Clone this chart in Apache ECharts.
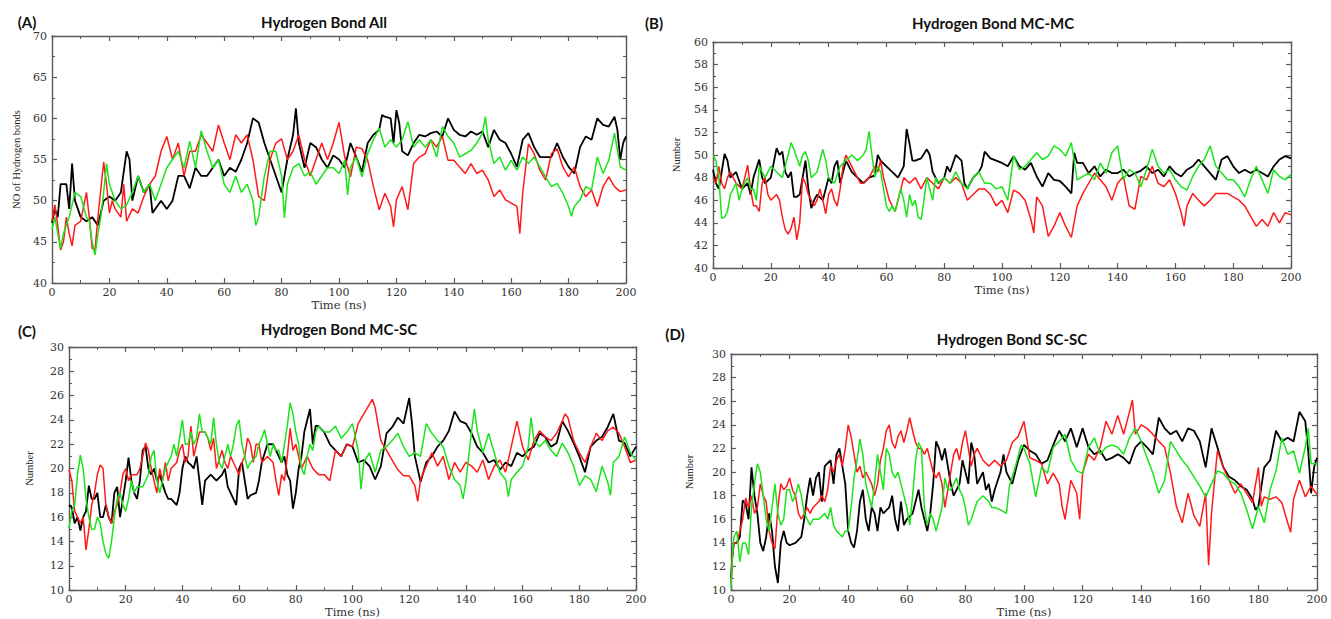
<!DOCTYPE html>
<html>
<head>
<meta charset="utf-8">
<title>Hydrogen bonds</title>
<script src="https://cdn.jsdelivr.net/npm/echarts@6/dist/echarts.min.js"></script>
<style>
  html, body { margin: 0; padding: 0; background: #fff; }
  #chart { width: 1331px; height: 619px; }
</style>
</head>
<body>
<div id="chart"></div>
<script>
// [time (ns), count] pairs
const allBlack = [[0,47.3],[1,49],[2,48],[3,52],[5,52],[6,49],[7,54.5],[8,50],[10,48],[12,47.5],[14,48],[16,47],[18,50],[20,50.5],[22,50],[24,51],[26,56],[27,55],[28,50],[30,53],[32,51],[34,52],[35,48.5],[38,50],[40,49],[42,50],[44,53],[46,53],[48,51.5],[50,54],[52,53],[54,53],[56,54],[58,55],[60,53],[62,54],[64,53.5],[66,55],[68,57],[70,60],[72,59.5],[74,57],[76,55],[78,53],[80,51],[82,55],[84,58],[85,61.2],[86,57],[88,54],[90,57],[92,56.5],[94,55],[96,54],[98,55.5],[100,55],[102,54],[104,57],[106,55.3],[108,53.5],[110,57],[112,58],[114,58.6],[115,60.4],[116,60.2],[118,60],[119,57],[120,61],[121,59.4],[122,56],[124,55.5],[126,57],[128,58],[130,57.8],[132,58.2],[134,58.4],[136,57.8],[138,60],[140,58.6],[142,58],[144,57.8],[146,58.4],[148,58],[150,58.4],[152,56.5],[154,58.6],[156,57.4],[158,57],[160,55.7],[162,54.1],[164,57.4],[166,58.2],[168,56.5],[170,55.3],[172,55.3],[174,55.3],[176,57],[178,55.3],[180,54.1],[182,53.3],[184,56.5],[186,57.8],[188,57.4],[190,60],[192,59.2],[194,59],[196,60.2],[197,58.6],[198,55],[199,57],[200,57.8]];
const allRed = [[0,47.5],[1,49.5],[2,47],[3,44],[4,45],[5,48],[6,46],[7,44.5],[8,47],[10,47.5],[12,51],[13,48],[14,44.2],[15,44],[16,48],[18,54.7],[19,52],[20,48.5],[21,50],[22,49],[24,48],[25,52],[26,47.5],[28,49],[30,48.5],[32,50.5],[34,52],[36,53],[38,56],[40,57.8],[42,55],[44,57],[46,53],[48,56],[50,56],[52,58],[54,57],[56,56],[58,59.2],[60,57],[62,55],[64,58],[66,57],[68,58],[70,55],[72,50.5],[74,50],[76,55],[78,57],[80,57.5],[82,55],[84,56],[86,58],[88,55],[90,53],[92,55],[94,57],[96,55],[98,57],[100,59.5],[101,57.4],[102,55.3],[104,52.9],[106,56.5],[108,56.3],[110,54.9],[112,51.7],[114,48.9],[116,50.9],[118,49.3],[119,46.8],[120,50.1],[122,51.7],[124,48.9],[126,54.5],[128,55.3],[130,55.7],[132,57.4],[134,56.5],[136,57.8],[138,54.9],[140,54.9],[142,54.1],[144,53.3],[146,54.5],[148,53.3],[150,53.7],[152,52.5],[154,50.5],[156,51.3],[158,50.1],[160,49.7],[162,49.3],[163,46],[164,50.9],[166,56.9],[168,55.7],[170,53.7],[172,52.5],[174,55.7],[176,56.3],[178,54.1],[180,52.9],[182,54.1],[184,51.7],[186,50.5],[188,51.3],[190,49.3],[192,51.7],[194,52.9],[196,51.7],[198,51.1],[200,51.3]];
const allGreen = [[0,46.5],[1,48],[2,46],[3,44.2],[4,46],[6,48],[8,51],[10,50.5],[12,48],[13,47.5],[14,45],[15,43.4],[16,46],[17,48],[18,51],[19,54.5],[20,52],[22,50],[24,49],[26,49.5],[28,51],[30,53],[32,51],[34,52],[36,50],[38,52],[40,54],[42,55],[44,56],[46,54],[48,57.2],[50,54],[52,58.5],[54,56],[56,54],[58,55],[60,52],[62,51],[64,53],[66,51],[68,52],[70,50],[71,47],[72,48],[74,53],[76,56],[78,56],[80,53],[81,47.9],[82,52],[84,54],[86,54.5],[88,53],[90,53.5],[92,52],[94,53],[96,54],[98,54],[100,53.3],[102,54.9],[103,50.7],[104,54.1],[106,55.3],[108,52.9],[110,55.7],[112,57.4],[114,58.8],[116,56.5],[118,57.4],[120,56.5],[122,57.4],[124,59.6],[126,56.5],[128,57.4],[130,56.5],[132,57.4],[134,55.3],[136,59],[138,57.8],[140,57],[142,55.3],[144,55.7],[146,56.1],[148,57],[150,58.2],[151,60.2],[152,57.4],[154,54.5],[156,55.3],[158,53.7],[160,54.9],[162,53.7],[164,55.3],[166,54.5],[168,55.3],[170,54.1],[172,52.9],[174,51.7],[176,52.1],[178,50.9],[180,49.3],[181,48.1],[182,49.3],[184,50.1],[186,51.7],[188,51.3],[190,55.3],[192,53.3],[194,54.9],[196,58.2],[198,54.1],[200,53.7]];

const mcmcBlack = [[0,48.7],[1,47.5],[2,47],[3,48.5],[4,50.1],[5,49.5],[6,48],[8,48.5],[10,47],[12,47.5],[13,46.5],[14,48],[16,49.6],[17,48],[18,47.5],[20,48],[22,50.6],[23,50],[24,50.3],[25,48.5],[26,48],[27,48.5],[28,46.3],[29,46.3],[30,46.5],[31,48],[32,49.5],[33,47],[34,45.3],[35,46],[36,46.5],[38,46],[40,48],[41,47.5],[42,49],[43,49.5],[44,47.5],[45,48.5],[46,49.5],[48,48.5],[50,48],[52,47.5],[54,48],[56,48.2],[57,50],[58,49.5],[60,49],[62,48.5],[64,48],[66,49],[67,52.3],[68,51],[69,49.5],[70,49.5],[72,49.7],[74,50.5],[75,50],[76,48.5],[78,47.5],[80,48],[81,49],[82,48.5],[84,50],[86,49.5],[87,47.5],[88,47],[90,48],[92,48.5],[93,49],[94,50.3],[96,49.7],[98,49.5],[100,49.3],[102,49],[104,49.9],[106,49],[108,48.7],[110,49.3],[112,48.1],[114,47.2],[116,48.4],[118,47.8],[120,47.7],[122,47.2],[124,46.6],[125,50.2],[126,49.3],[128,49.3],[130,48.4],[132,49],[134,48.1],[136,48.7],[138,48.4],[140,48.4],[142,48.7],[144,48.1],[146,48.4],[148,48.6],[150,49],[152,48.4],[154,48.7],[156,48.1],[158,49],[160,48.4],[162,48.1],[164,48.7],[166,49],[168,49.6],[170,49],[172,48.4],[174,47.8],[176,49.6],[178,49.9],[180,49],[182,48.4],[184,48.7],[186,48.4],[188,48.7],[190,48.4],[192,48.1],[194,49],[196,49.6],[198,49.9],[200,49.7]];
const mcmcRed = [[0,48],[1,47.5],[2,49],[3,47.5],[4,47],[5,48],[6,48.5],[8,47.5],[10,47],[11,48],[12,49.1],[13,47],[14,45.5],[15,45.5],[16,45],[17,47.5],[18,48],[19,46.5],[20,46],[22,46.5],[23,46],[24,44.5],[25,43.4],[26,43],[27,43.5],[28,44.5],[29,42.5],[30,44],[31,48],[32,47.5],[33,46.5],[34,46],[35,45.5],[36,46],[37,47],[38,46],[39,44.8],[40,46.5],[41,47],[42,46],[43,45.5],[44,47],[45,49],[46,50],[48,49],[50,48],[51,47.5],[52,47.5],[54,48],[56,49],[57,48.5],[58,49.5],[59,48],[60,47],[61,46],[62,45.5],[63,45],[64,46],[65,47],[66,48],[68,47.5],[70,48],[72,47],[74,48],[76,47.5],[78,47],[80,48],[82,47.5],[84,48],[86,47.5],[88,46],[90,46.5],[92,47],[94,47],[96,46.5],[98,45.5],[100,46],[102,44.9],[104,46.9],[106,46.6],[108,46],[110,44.3],[111,43.1],[112,46.3],[114,45.5],[116,42.8],[118,43.7],[120,44.9],[122,43.7],[124,42.7],[126,45.5],[128,46.6],[130,47.5],[132,48.4],[134,47.8],[136,47.2],[138,46],[140,47.5],[142,48.1],[144,45.5],[146,45.2],[148,48.1],[150,47.8],[152,49],[154,47.5],[156,47.2],[158,47.8],[160,46.6],[162,44.9],[163,43.7],[164,45.5],[166,46.6],[168,46],[170,45.5],[172,46],[174,46.6],[176,46.6],[178,46.6],[180,46.3],[182,46],[184,45.5],[186,44.6],[188,43.7],[190,44.3],[192,43.7],[194,44.9],[196,44],[198,44.9],[200,44.7]];
const mcmcGreen = [[0,50],[1,49.5],[2,48],[3,44.4],[4,44.5],[5,45],[6,46.5],[8,47.5],[9,46],[10,47],[12,48],[13,47],[14,47],[15,46],[16,49],[18,48],[20,49],[22,48.5],[24,48],[25,49],[26,50],[27,51.1],[28,50.5],[30,49],[31,50],[32,50.3],[33,49.5],[34,48],[36,48.5],[38,50.5],[39,49.5],[40,48],[42,47.5],[44,49],[46,49.5],[48,50],[50,49.5],[52,50],[53,50.5],[54,52.1],[55,50],[56,48],[57,49],[58,48.5],[59,47],[60,45.5],[61,45],[62,45.5],[63,45],[64,46],[65,47],[66,46],[67,44.5],[68,46.5],[69,45.5],[70,46],[71,44.5],[72,44.3],[73,46],[74,48],[76,46],[77,48],[78,47.5],[80,48],[82,47.5],[84,48.5],[86,47.5],[88,47],[90,48],[92,48.5],[94,47.5],[96,47.5],[98,47],[100,47.2],[102,46],[104,49.9],[106,48.7],[108,49],[110,49.6],[112,50.2],[114,49.6],[116,49.9],[118,50.8],[120,50.5],[122,49.9],[124,51.1],[126,47.8],[128,48.1],[130,48.4],[132,47.8],[134,49.3],[136,48.4],[138,50.2],[140,50.8],[142,47.8],[144,48.7],[146,48.4],[148,47.2],[150,48.7],[152,50.5],[154,49],[156,48.4],[158,48.7],[160,47.8],[162,47.2],[164,46.9],[166,48.1],[168,49],[170,49.6],[172,50.8],[174,49],[176,48.4],[178,47.8],[180,47.8],[182,47.2],[184,46.3],[186,47.8],[188,49],[190,47.8],[192,46.6],[194,48.7],[196,48.1],[198,47.8],[200,48.3]];

const mcscBlack = [[0,17],[1,16.8],[2,15.5],[3,16],[4,14.9],[5,16],[6,16.5],[7,18.6],[8,17.5],[9,17.5],[10,18],[11,16],[12,16],[13,17],[14,16],[15,15.5],[16,18],[17,18.5],[18,16],[19,17.5],[20,19],[21,20.9],[22,19],[23,18],[24,17.5],[25,19],[26,21.5],[27,21.8],[28,20],[29,19.5],[30,20],[31,19],[32,19.5],[34,18],[35,17.5],[36,17.5],[38,17],[39,18],[40,20],[41,21],[42,20.5],[43,20.3],[44,20],[45,21],[46,19],[47,17],[48,19],[50,19.5],[52,19],[54,19.5],[55,20],[56,18.5],[58,17.5],[59,17],[60,20],[61,20.5],[62,19],[63,17.5],[64,17.8],[66,18],[67,19],[68,20.5],[70,22],[72,22],[74,21],[75,20.5],[76,21],[77,19.5],[78,19],[79,16.7],[80,18],[81,20],[82,21],[83,23],[85,24.9],[86,22],[87,23.5],[88,23.5],[90,23],[92,22],[94,21.5],[96,21],[98,22],[100,21.8],[102,20.5],[104,20.7],[106,20.2],[108,19.1],[110,20.2],[112,22.9],[114,23.4],[116,24.2],[118,23.7],[120,25.8],[121,23.7],[122,21],[124,18.9],[126,20.5],[128,21],[130,21.8],[132,22.3],[134,23.1],[136,24.7],[138,23.9],[140,23.7],[142,22.9],[144,21.8],[146,21.3],[148,20.5],[150,20.7],[152,19.9],[154,20.5],[156,20.2],[158,21.3],[160,21],[162,21.5],[164,21.8],[166,22.9],[168,22.6],[170,21.8],[172,22.1],[174,23.9],[176,23.1],[178,22.1],[180,21],[182,19.7],[184,21.8],[186,22.3],[188,22.6],[190,23.4],[192,24.5],[194,22.3],[196,22.1],[198,21],[200,21.8]];
const mcscRed = [[0,19.9],[1,19],[2,16.5],[3,16],[4,15.5],[5,16],[6,13.3],[7,15],[8,17],[9,18],[10,19.5],[11,20.3],[12,20],[13,17],[14,16],[15,15.5],[16,16.5],[17,17],[18,18],[19,19.5],[20,20],[21,19],[22,19.5],[24,19.5],[25,20],[26,21],[27,22.1],[28,21.5],[29,20],[30,19],[31,18],[32,20],[33,19],[34,20.5],[35,19],[36,20],[38,20.5],[39,21.5],[40,22],[41,20.5],[42,21],[43,23.5],[44,21],[45,22],[46,23],[47,23],[48,23],[49,22.5],[50,21.5],[51,22.5],[52,20],[54,21.5],[55,20.5],[56,20],[57,21],[58,20.5],[60,19.5],[61,20.5],[62,21],[63,22.5],[64,22],[65,20.5],[66,22],[67,22],[68,20.5],[70,21],[72,20.5],[73,19],[74,17.8],[75,19.5],[76,19],[77,21],[78,23.3],[79,21.5],[80,22],[81,21],[82,20],[84,21],[86,20],[88,19.5],[90,19.5],[92,19],[94,21.5],[96,21],[98,22],[100,21.8],[102,23.7],[104,24.5],[106,25.3],[107,25.7],[108,25],[110,22.3],[112,21.5],[114,20.7],[116,19.9],[118,19.4],[120,19.4],[122,18.6],[123,17.3],[124,19.1],[126,20.2],[128,21.3],[130,20.2],[132,21],[134,19.1],[136,20.5],[138,19.7],[140,20.5],[142,20.2],[144,19.7],[146,20.7],[148,19.1],[150,20.2],[152,20.7],[154,19.7],[156,21.8],[158,23.9],[160,21.8],[162,20.7],[164,22.3],[166,23.1],[168,22.6],[170,22.3],[172,22.9],[174,23.9],[175,24.5],[176,24.2],[178,22.3],[180,21.3],[182,20.5],[184,21.8],[186,22.9],[188,22.3],[190,23.1],[192,23.4],[194,22.9],[196,21.8],[198,20.5],[200,20.7]];
const mcscGreen = [[0,15.1],[1,16.5],[2,17],[3,19.5],[4,21.1],[5,20],[6,17.5],[7,16],[8,15],[9,15],[10,16],[11,15.5],[12,14],[13,13],[14,12.6],[15,14],[16,16],[17,17.5],[18,18],[19,17],[20,16.5],[21,17.5],[22,19],[23,18],[24,18.5],[26,18.5],[28,19.5],[29,21],[30,21.5],[31,19],[32,18],[33,19],[34,20],[36,21],[37,22],[38,21],[39,22.5],[40,24],[41,22],[42,22],[43,23],[44,22],[45,22.5],[46,24.5],[47,23],[48,23],[50,22],[51,24.2],[52,22],[53,20.5],[54,20],[55,21],[56,22],[57,21],[58,22],[59,23.5],[60,24],[61,22],[62,21],[63,20],[64,20.5],[66,21],[67,22],[68,22.5],[69,23.2],[70,22],[71,21],[72,22],[73,21.5],[74,21.5],[75,20.5],[76,22],[77,23.5],[78,25.4],[79,24.5],[80,23],[81,22],[82,20],[83,19.5],[84,21],[85,22],[86,21.5],[87,23],[88,23.5],[90,23],[92,23],[94,23.5],[96,22.5],[98,23],[100,23.7],[102,21.5],[103,18.3],[104,20.5],[106,21.3],[108,19.7],[110,21.5],[112,21.8],[114,22.3],[116,22.9],[118,21.8],[120,21],[122,21.3],[124,21],[126,23.7],[128,22.9],[130,22.3],[132,21.8],[134,20.2],[136,19.1],[138,18.6],[139,17.5],[140,18.9],[142,23.1],[143,24.9],[144,23.1],[146,21.3],[148,22.9],[150,21.3],[152,19.7],[154,19.1],[155,17.7],[156,19.1],[158,19.7],[160,20.2],[162,21.8],[163,24.2],[164,22.3],[166,21.8],[168,22.3],[170,21.5],[172,21],[174,22.1],[176,21.3],[178,20.2],[180,18.6],[182,19.4],[184,19.1],[186,18.1],[188,20.2],[190,18.9],[191,17.8],[192,20.5],[194,21],[196,22.6],[198,21.3],[200,20.7]];

const scscBlack = [[0,11],[0.5,13],[1,14],[2,14],[3,14.5],[4,17.6],[5,17.3],[6,16],[7,20.4],[8,18],[9,16.5],[10,14],[11,13.3],[12,14.5],[13,16.5],[14,15],[15,12],[16,10.6],[17,14],[18,15],[19,14],[20,13.8],[22,14],[24,14.5],[25,16],[26,18],[27,19.5],[28,18],[29,19.5],[30,20],[31,17.5],[32,20.5],[34,21],[35,19],[36,21.5],[37,22],[38,20.5],[39,19],[40,15],[41,14],[42,13.6],[43,15],[44,17.5],[45,18.5],[46,16],[47,15],[48,17],[49,16.5],[50,15],[51,17],[52,16.5],[54,17],[55,18],[56,16],[57,15],[58,17.5],[59,15.5],[60,16],[62,16.5],[64,18.5],[65,17],[66,16],[67,15],[68,16.5],[69,19],[70,22.6],[71,22],[72,21],[73,22],[74,20.5],[75,19],[76,18],[78,19],[79,21],[80,20],[81,19],[82,22.5],[83,21.5],[84,19],[86,20],[87,18.5],[88,19],[89,17.5],[90,18.5],[92,20],[93,21.5],[94,20],[96,19],[98,21],[100,22.3],[102,21.8],[104,21.5],[106,20.7],[108,21],[110,22.3],[112,23.5],[114,22.6],[116,23.7],[118,22.1],[120,23.7],[122,22.1],[124,21.5],[126,21.8],[128,21],[130,21.2],[132,21.5],[134,21.2],[136,20.7],[138,22.1],[140,22.6],[142,22.1],[144,21.5],[146,24.6],[148,23.7],[150,23.2],[152,23.5],[154,22.6],[156,23.7],[158,23.5],[160,22.6],[162,20.4],[164,23.7],[166,22.1],[168,20.4],[170,19.6],[172,19.3],[174,18.8],[176,18.5],[178,17.7],[179,16.8],[180,17.1],[182,20.4],[184,21],[186,23.5],[188,22.6],[190,22.9],[192,22.6],[194,25.1],[196,24.3],[197,21.8],[198,18.2],[199,20.4],[200,21.2]];
const scscRed = [[0,10.5],[0.5,13],[1,14],[2,14],[3,15],[4,16],[5,17.8],[6,17],[7,18],[8,16.5],[9,17],[10,19],[11,18],[12,17.5],[13,15],[14,14],[15,13.5],[16,17],[17,19],[18,18.5],[19,18.8],[20,19.5],[21,18.5],[22,18],[23,16.5],[24,16],[25,16.5],[26,17],[27,16.5],[28,17],[30,17.5],[31,18],[32,17.5],[33,18.5],[34,20.5],[35,20],[36,21],[37,21.5],[38,20.5],[39,22],[40,24],[41,23],[42,21.5],[43,20],[44,20.5],[45,19.5],[46,20],[47,19.5],[48,19],[49,18],[50,19],[51,21],[52,22],[53,23.5],[54,24],[55,22.5],[56,22],[57,23],[58,23.5],[59,22.5],[60,23.5],[61,24.6],[62,23.5],[63,22.5],[64,22],[65,22],[66,21.5],[67,22],[68,21],[69,20],[70,19.5],[71,20],[72,19],[73,17],[74,18.5],[75,20],[76,21.5],[77,22],[78,21],[79,22.5],[80,23.5],[81,22],[82,20.5],[83,21.5],[84,22],[86,21],[88,20.5],[90,21],[92,20.5],[94,21],[96,22.5],[98,23],[100,24.3],[102,21.2],[104,21],[106,20.7],[108,19],[110,19.9],[112,19],[113,17.1],[114,16],[116,19.3],[118,18.2],[119,16],[120,19.9],[122,21.5],[124,21],[126,22.1],[128,24.3],[130,23.2],[132,24.8],[134,23.2],[136,25.1],[137,26.1],[138,23.2],[140,24],[142,23.7],[144,23.2],[146,22.6],[148,22.1],[150,19.9],[152,17.1],[154,15.7],[156,18.2],[158,16.3],[160,15.4],[162,18.2],[163,12.1],[164,16.5],[166,21.8],[168,20.4],[170,19.3],[172,18.2],[174,19],[176,18.2],[178,17.4],[180,20.4],[181,17.1],[182,17.9],[184,17.7],[186,17.9],[188,17.4],[190,15.7],[191,14.9],[192,17.7],[194,19.3],[196,17.9],[198,18.8],[200,18.1]];
const scscGreen = [[0,10.2],[0.5,13],[1,14.5],[2,15],[3,12.4],[4,14],[5,14],[6,13],[7,17],[8,19],[9,20.7],[10,20],[11,18],[12,16],[13,15],[14,17],[15,19],[16,16.5],[17,15.5],[18,16],[19,18.5],[20,18.5],[21,17.5],[22,18],[23,19],[24,18],[25,16.5],[26,16],[27,15.5],[28,16],[30,16],[32,16.5],[33,16],[34,17],[35,15.5],[36,15],[38,14.5],[39,15],[40,15],[41,17],[42,19.5],[43,21],[44,22.8],[45,21.5],[46,19],[47,18],[48,17],[49,19],[50,21.5],[51,20],[52,18.5],[53,22],[54,21.5],[55,20],[56,19.5],[57,20],[58,19],[59,18],[60,17],[61,15.5],[62,18],[63,21],[64,22.5],[65,22],[66,17],[67,15.5],[68,16.5],[69,16],[70,15],[71,16],[72,17],[73,19.5],[74,18.5],[75,18.5],[76,19],[77,19.5],[78,18.5],[79,18],[80,17],[81,15.5],[82,16],[84,17.5],[86,18],[88,17.5],[89,17],[90,17],[92,16.8],[94,16.5],[95,18.8],[97,20.4],[99,22.3],[100,22],[102,20.7],[104,17.9],[106,20.4],[108,19.9],[110,22.1],[112,22.6],[114,23.2],[116,21],[118,20.1],[120,19.9],[122,22.1],[124,22.9],[126,21.5],[128,22.1],[130,22.3],[132,22.1],[134,21.5],[136,22.9],[138,23.7],[140,22.6],[142,21.2],[144,19.9],[146,18.2],[148,19.3],[150,22.6],[152,21.8],[154,21],[156,20.4],[158,19.6],[160,18.8],[162,17.9],[164,19],[166,20.1],[168,19.9],[170,19.3],[172,19],[174,18.2],[176,16.8],[178,15.2],[180,17.1],[182,15.7],[184,18.5],[186,20.1],[188,22.9],[190,21.5],[192,21.8],[194,19.9],[196,22.1],[197,23.7],[198,20.7],[200,20.7]];

const lineColors = ['#000000', '#ff1a1a', '#1be41b'];

const panels = [
    {tag: '(A)', tagX: 27, tagY: 22, title: 'Hydrogen Bond All', titleX: 324, titleY: 22,
     yName: 'NO of Hydrogen bonds', yMin: 40, yMax: 70, yStep: 5, yGap: 30,
     box: {left: 52, top: 36, width: 574, height: 247}, lines: [allBlack, allRed, allGreen]},
    {tag: '(B)', tagX: 654, tagY: 23, title: 'Hydrogen Bond MC-MC', titleX: 993, titleY: 23,
     yName: 'Number', yMin: 40, yMax: 60, yStep: 2, yGap: 31,
     box: {left: 713, top: 42, width: 578, height: 226}, lines: [mcmcBlack, mcmcRed, mcmcGreen]},
    {tag: '(C)', tagX: 27, tagY: 331, title: 'Hydrogen Bond MC-SC', titleX: 339, titleY: 329,
     yName: 'Number', yMin: 10, yMax: 30, yStep: 2, yGap: 34,
     box: {left: 69, top: 347, width: 567, height: 250}, lines: [mcscBlack, mcscRed, mcscGreen]},
    {tag: '(D)', tagX: 675, tagY: 334, title: 'Hydrogen Bond SC-SC', titleX: 1012, titleY: 339,
     yName: 'Number', yMin: 10, yMax: 30, yStep: 2, yGap: 36,
     box: {left: 731, top: 354, width: 586, height: 242}, lines: [scscBlack, scscRed, scscGreen]},
];

const frame = {onZero: false, lineStyle: {color: '#5a5a5a', width: 1.4}};
const tick = {inside: true, length: 5, lineStyle: {color: '#5a5a5a', width: 1.2}};
const minor = {show: true, splitNumber: 2, length: 3, lineStyle: {color: '#5a5a5a', width: 1}};
const tickFont = {fontFamily: 'DejaVu Serif', fontSize: 11, color: '#333'};

let option = {
    animation: false,
    backgroundColor: '#fff',
    grid: [],
    xAxis: [],
    yAxis: [],
    series: [],
    graphic: [],
};

panels.forEach((p, i) => {
    option.grid.push(p.box);
    let xBase = {gridIndex: i, type: 'value', min: 0, max: 200, interval: 20,
        axisLine: frame, axisTick: tick, minorTick: minor, splitLine: {show: false}};
    let yBase = {gridIndex: i, type: 'value', min: p.yMin, max: p.yMax, interval: p.yStep,
        axisLine: frame, axisTick: tick, minorTick: minor, splitLine: {show: false}};
    option.xAxis.push(Object.assign({}, xBase, {
        position: 'bottom',
        axisLabel: Object.assign({margin: 4}, tickFont),
        name: 'Time (ns)', nameLocation: 'middle', nameGap: 13,
        nameTextStyle: {fontFamily: 'DejaVu Serif', fontSize: 11.5, color: '#333'},
    }));
    option.xAxis.push(Object.assign({}, xBase, {position: 'top', axisLabel: {show: false}}));
    option.yAxis.push(Object.assign({}, yBase, {
        position: 'left',
        axisLabel: Object.assign({margin: 5}, tickFont),
        name: p.yName, nameLocation: 'middle', nameGap: p.yGap,
        nameTextStyle: {fontFamily: 'Liberation Serif', fontSize: 10.5, color: '#222'},
    }));
    option.yAxis.push(Object.assign({}, yBase, {position: 'right', axisLabel: {show: false}}));

    p.lines.forEach((d, k) => {
        option.series.push({
            type: 'line',
            xAxisIndex: 2 * i,
            yAxisIndex: 2 * i,
            data: d,
            showSymbol: false,
            lineStyle: {color: lineColors[k], width: k === 0 ? 1.8 : 1.5},
            z: 2 + k,
        });
    });

    option.graphic.push({type: 'text', x: p.tagX, y: p.tagY,
        style: {text: p.tag, font: 'bold 15px Lato', fill: '#111', align: 'center', verticalAlign: 'middle'}});
    option.graphic.push({type: 'text', x: p.titleX, y: p.titleY,
        style: {text: p.title, font: 'bold 15px Lato', fill: '#111', align: 'center', verticalAlign: 'middle'}});
});

let myChart = echarts.init(document.getElementById('chart'), null, {renderer: 'svg'});
myChart.setOption(option);
window.addEventListener('resize', myChart.resize);
</script>
</body>
</html>
